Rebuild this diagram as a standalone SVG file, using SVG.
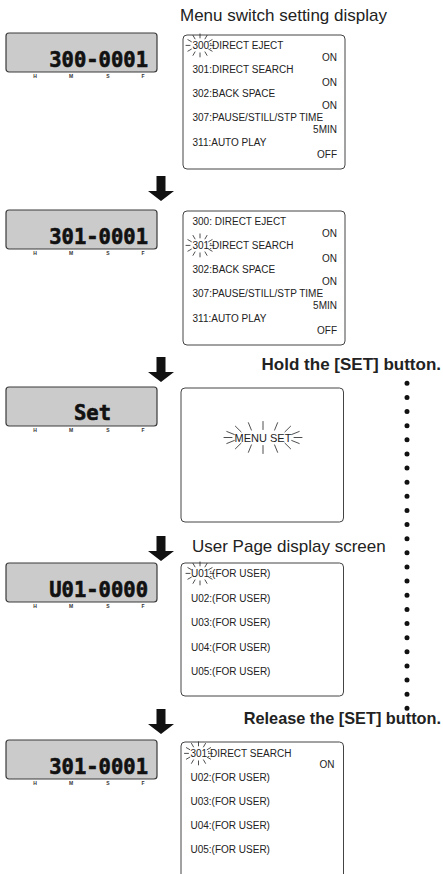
<svg xmlns="http://www.w3.org/2000/svg" xmlns:xlink="http://www.w3.org/1999/xlink" width="443" height="874" viewBox="0 0 443 874">
<style>
.lcd{fill:#cbcbcb;stroke:#3a3a3a;stroke-width:1.2}
.lcdt{font-family:"DejaVu Sans Mono","Liberation Mono",monospace;font-weight:bold;font-size:20.5px;fill:#111;stroke:#111;stroke-width:0.6;text-anchor:end}
.hmsf{font-family:"Liberation Sans",Arial,sans-serif;font-weight:bold;font-size:5px;fill:#333;text-anchor:middle}
.scr{fill:#fff;stroke:#444;stroke-width:1}
.t{font-family:"Liberation Sans",Arial,sans-serif;font-size:10px;fill:#222}
.r{text-anchor:end}
.cap{font-family:"Liberation Sans",Arial,sans-serif;font-size:17px;fill:#222}
.b{font-weight:bold;text-anchor:end}
.spark{stroke:#222;stroke-width:0.8;fill:none;stroke-linecap:round}
.arrow{fill:#111}
.dots{stroke:#111;stroke-width:5;stroke-linecap:round;stroke-dasharray:0 14.13;fill:none}
</style>
<defs>
<path id="arrow" class="arrow" d="M156.5,0 L165.5,0 L165.5,15 L174,15 L161,25 L148,15 L156.5,15 Z"/>
<path id="spark" class="spark" d="M10,0L14,0M8.66,3.75L12.12,5.75M5,6.5L7,9.96M0,7.5L0,11.5M-5,6.5L-7,9.96M-8.66,3.75L-12.12,5.75M-10,0L-14,0M-8.66,-3.75L-12.12,-5.75M-5,-6.5L-7,-9.96M0,-7.5L0,-11.5M5,-6.5L7,-9.96M8.66,-3.75L12.12,-5.75"/>
<path id="bigspark" class="spark" d="M31,0L39,0M28.7,3L36.2,6M21.9,5.66L27.6,11.3M11.6,7.4L14.6,14.8M0,8L0,16M-11.6,7.4L-14.6,14.8M-21.9,5.66L-27.6,11.3M-28.7,3L-36.2,6M-31,0L-39,0M-28.7,-3L-36.2,-6M-21.9,-5.66L-27.6,-11.3M-11.6,-7.4L-14.6,-14.8M0,-8L0,-16M11.6,-7.4L14.6,-14.8M21.9,-5.66L27.6,-11.3M28.7,-3L36.2,-6"/>
</defs>

<g id="labels">
<text class="cap" x="180" y="21">Menu switch setting display</text>
<text class="cap b" x="441" y="370">Hold the [SET] button.</text>
<text class="cap" x="192" y="552">User Page display screen</text>
<text class="cap b" x="441" y="724" style="font-size:16.3px">Release the [SET] button.</text>
</g>

<g id="lcd1">
<rect class="lcd" x="6" y="33" width="151" height="39" rx="3"/>
<text class="lcdt" x="148" y="66.5">300-0001</text>
<text class="hmsf" x="35" y="78">H</text><text class="hmsf" x="71" y="78">M</text><text class="hmsf" x="108" y="78">S</text><text class="hmsf" x="143" y="78">F</text>
</g>

<g id="screen1">
<rect class="scr" x="183" y="35" width="162" height="134" rx="4"/>
<text class="t" x="192.5" y="49">300:DIRECT EJECT</text>
<text class="t r" x="337" y="61">ON</text>
<text class="t" x="192.5" y="73">301:DIRECT SEARCH</text>
<text class="t r" x="337" y="85.5">ON</text>
<text class="t" x="192.5" y="97">302:BACK SPACE</text>
<text class="t r" x="337" y="109">ON</text>
<text class="t" x="192.5" y="121">307:PAUSE/STILL/STP TIME</text>
<text class="t r" x="337" y="133">5MIN</text>
<text class="t" x="192.5" y="145.5">311:AUTO PLAY</text>
<text class="t r" x="337" y="157.5">OFF</text>
<use xlink:href="#spark" href="#spark" transform="translate(200,45.4)"/>
</g>

<g id="lcd2">
<rect class="lcd" x="6" y="210" width="151" height="39" rx="3"/>
<text class="lcdt" x="148" y="243.5">301-0001</text>
<text class="hmsf" x="35" y="255">H</text><text class="hmsf" x="71" y="255">M</text><text class="hmsf" x="108" y="255">S</text><text class="hmsf" x="143" y="255">F</text>
</g>

<g id="screen2">
<rect class="scr" x="183" y="211" width="162" height="134" rx="4"/>
<text class="t" x="192.5" y="225">300: DIRECT EJECT</text>
<text class="t r" x="337" y="237">ON</text>
<text class="t" x="192.5" y="249">301:DIRECT SEARCH</text>
<text class="t r" x="337" y="261.5">ON</text>
<text class="t" x="192.5" y="273">302:BACK SPACE</text>
<text class="t r" x="337" y="285">ON</text>
<text class="t" x="192.5" y="297">307:PAUSE/STILL/STP TIME</text>
<text class="t r" x="337" y="309">5MIN</text>
<text class="t" x="192.5" y="321.5">311:AUTO PLAY</text>
<text class="t r" x="337" y="333.5">OFF</text>
<use xlink:href="#spark" href="#spark" transform="translate(200,245.4)"/>
</g>

<g id="lcd3">
<rect class="lcd" x="6" y="387" width="151" height="39" rx="3"/>
<text class="lcdt" x="92.5" y="419.5" style="text-anchor:middle">Set</text>
<text class="hmsf" x="35" y="432">H</text><text class="hmsf" x="71" y="432">M</text><text class="hmsf" x="108" y="432">S</text><text class="hmsf" x="143" y="432">F</text>
</g>

<g id="screen3">
<rect class="scr" x="181" y="388" width="162.5" height="134" rx="4"/>
<text class="t" x="263" y="441.5" style="text-anchor:middle;font-size:11px">MENU SET</text>
<use xlink:href="#bigspark" href="#bigspark" transform="translate(263,437.5)"/>
</g>

<g id="lcd4">
<rect class="lcd" x="6" y="563" width="151" height="39" rx="3"/>
<text class="lcdt" x="148" y="596.5">U01-0000</text>
<text class="hmsf" x="35" y="608">H</text><text class="hmsf" x="71" y="608">M</text><text class="hmsf" x="108" y="608">S</text><text class="hmsf" x="143" y="608">F</text>
</g>

<g id="screen4">
<rect class="scr" x="181" y="563" width="162.5" height="133" rx="4"/>
<text class="t" x="191" y="577">U01:(FOR USER)</text>
<text class="t" x="191" y="601.5">U02:(FOR USER)</text>
<text class="t" x="191" y="626">U03:(FOR USER)</text>
<text class="t" x="191" y="650.5">U04:(FOR USER)</text>
<text class="t" x="191" y="675">U05:(FOR USER)</text>
<use xlink:href="#spark" href="#spark" transform="translate(200,573.4)"/>
</g>

<g id="lcd5">
<rect class="lcd" x="6" y="740" width="151" height="39" rx="3"/>
<text class="lcdt" x="148" y="773.5">301-0001</text>
<text class="hmsf" x="35" y="785">H</text><text class="hmsf" x="71" y="785">M</text><text class="hmsf" x="108" y="785">S</text><text class="hmsf" x="143" y="785">F</text>
</g>

<g id="screen5">
<rect class="scr" x="181" y="742" width="162.5" height="140" rx="4"/>
<text class="t" x="190.5" y="757">301:DIRECT SEARCH</text>
<text class="t r" x="334.5" y="768">ON</text>
<text class="t" x="190.5" y="780.5">U02:(FOR USER)</text>
<text class="t" x="190.5" y="804.5">U03:(FOR USER)</text>
<text class="t" x="190.5" y="828.5">U04:(FOR USER)</text>
<text class="t" x="190.5" y="852.5">U05:(FOR USER)</text>
<use xlink:href="#spark" href="#spark" transform="translate(198.5,753.4)"/>
</g>

<g id="connectors">
<use xlink:href="#arrow" href="#arrow" y="176"/>
<use xlink:href="#arrow" href="#arrow" y="357"/>
<use xlink:href="#arrow" href="#arrow" y="536"/>
<use xlink:href="#arrow" href="#arrow" y="709"/>
<line class="dots" x1="407" y1="383.3" x2="407" y2="708.4"/>
</g>
</svg>
